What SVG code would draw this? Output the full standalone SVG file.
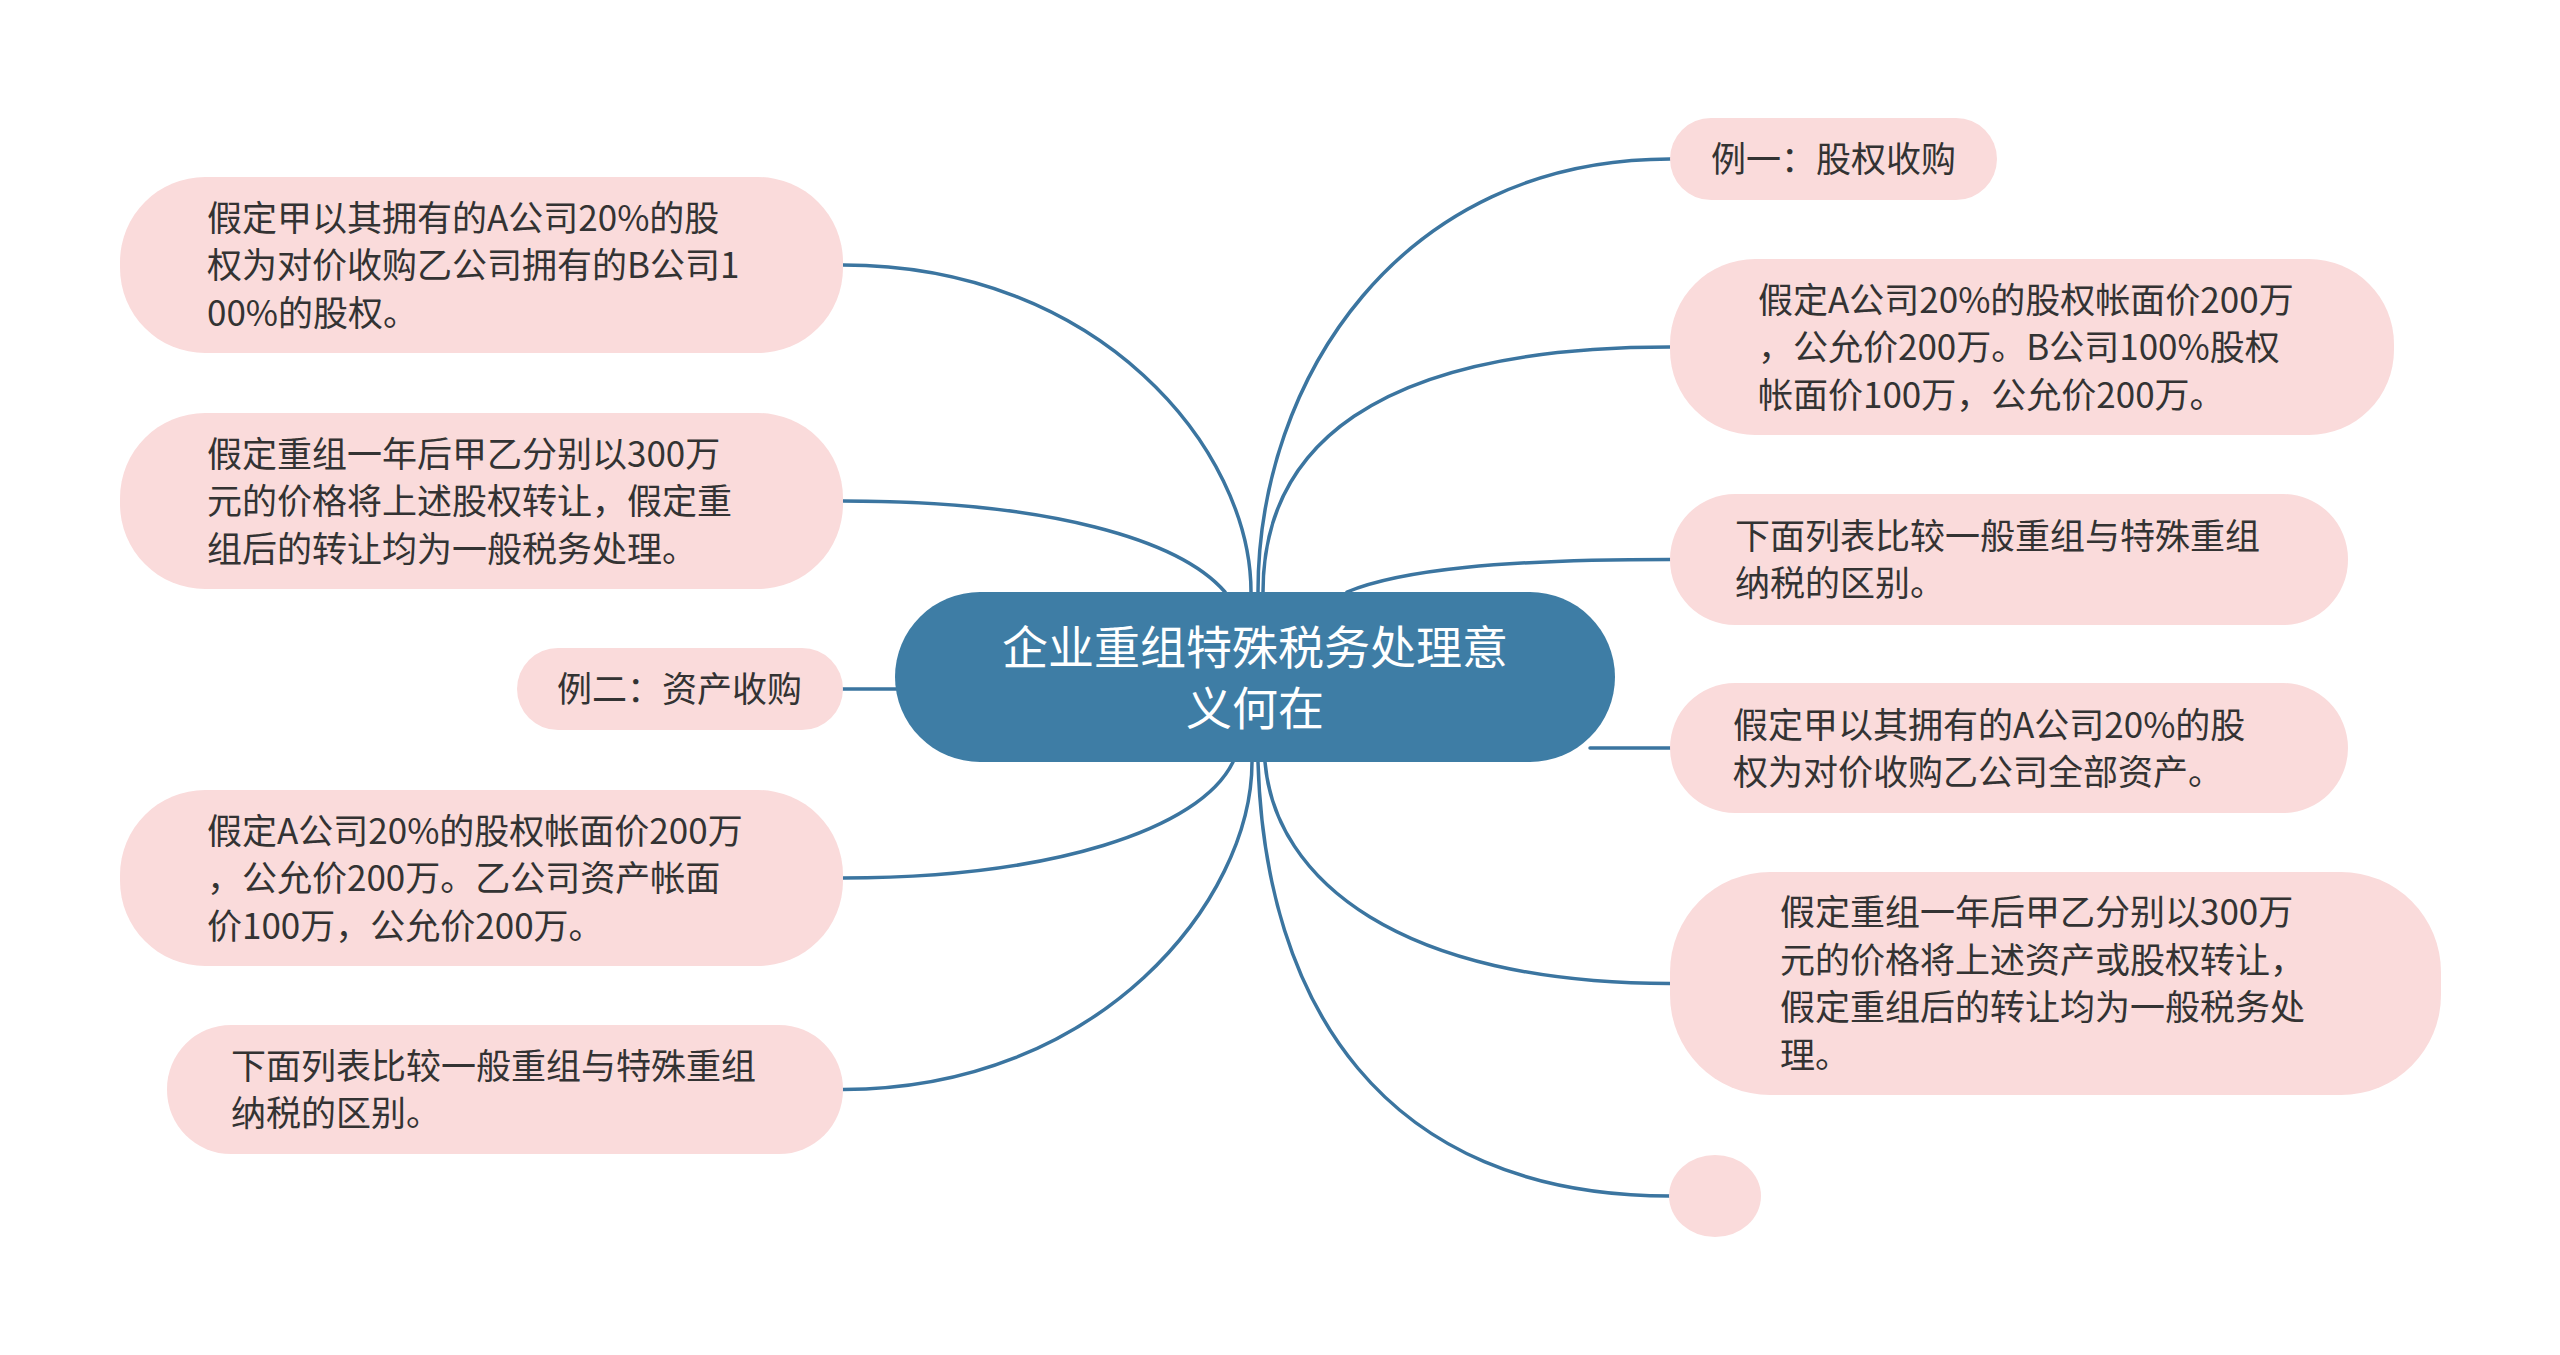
<svg xmlns="http://www.w3.org/2000/svg" width="2560" height="1355" viewBox="0 0 2560 1355">
<style>
.bg{fill:#ffffff}
.link{fill:none;stroke:#3b75a0;stroke-width:3.5;stroke-linecap:round}
.node{fill:#fadbdb}
.root{fill:#3e7da5}
.t{font-family:"Noto Sans CJK SC","Noto Sans",sans-serif;font-size:35px;fill:#333333}
.rt{font-family:"Noto Sans CJK SC","Noto Sans",sans-serif;font-size:46px;fill:#ffffff;text-anchor:middle}
</style>
<rect class="bg" x="0" y="0" width="2560" height="1355"/>
<g id="connectors">
<path class="link" d="M1258 592 C1258 380 1400 159 1670 159"/>
<path class="link" d="M1263 592 C1263 450 1370 347 1670 347"/>
<path class="link" d="M1347 592 C1400 570 1500 559.5 1670 559.5"/>
<path class="link" d="M1590 748 L1670 748"/>
<path class="link" d="M1265 762 C1275 880 1400 983.5 1670 983.5"/>
<path class="link" d="M1258 762 C1265 1000 1380 1196 1670 1196"/>
<path class="link" d="M1251 592 C1251 450 1100 265 843 265"/>
<path class="link" d="M1225 592 C1180 540 1050 501 843 501"/>
<path class="link" d="M900 689 L843 689"/>
<path class="link" d="M1233 762 C1200 830 1050 878 843 878"/>
<path class="link" d="M1252 762 C1252 900 1100 1089.5 843 1089.5"/>
</g>
<g id="root">
<rect class="root" x="895" y="592" width="720" height="170" rx="85" ry="85"/>
<text class="rt" x="1255" y="664">企业重组特殊税务处理意</text>
<text class="rt" x="1255" y="725">义何在</text>
</g>
<g id="r1">
<rect class="node" x="1670" y="118" width="327" height="82" rx="41" ry="41"/>
<text class="t" x="1711" y="172">例一：股权收购</text>
</g>
<g id="r2">
<rect class="node" x="1670" y="259" width="724" height="176" rx="85" ry="85"/>
<text class="t"><tspan x="1758" y="312.5">假定A公司20%的股权帐面价200万</tspan><tspan x="1758" y="360">，公允价200万。B公司100%股权</tspan><tspan x="1758" y="407.5">帐面价100万，公允价200万。</tspan></text>
</g>
<g id="r3">
<rect class="node" x="1670" y="494" width="678" height="131" rx="65" ry="65"/>
<text class="t"><tspan x="1735" y="549">下面列表比较一般重组与特殊重组</tspan><tspan x="1735" y="596">纳税的区别。</tspan></text>
</g>
<g id="r4">
<rect class="node" x="1670" y="683" width="678" height="130" rx="65" ry="65"/>
<text class="t"><tspan x="1733" y="737.5">假定甲以其拥有的A公司20%的股</tspan><tspan x="1733" y="784.5">权为对价收购乙公司全部资产。</tspan></text>
</g>
<g id="r5">
<rect class="node" x="1670" y="872" width="771" height="223" rx="100" ry="100"/>
<text class="t"><tspan x="1780" y="925">假定重组一年后甲乙分别以300万</tspan><tspan x="1780" y="973">元的价格将上述资产或股权转让，</tspan><tspan x="1780" y="1020">假定重组后的转让均为一般税务处</tspan><tspan x="1780" y="1068">理。</tspan></text>
</g>
<g id="r6">
<ellipse class="node" cx="1715" cy="1196" rx="46" ry="41"/>
</g>
<g id="l1">
<rect class="node" x="120" y="177" width="723" height="176" rx="85" ry="85"/>
<text class="t"><tspan x="207" y="231">假定甲以其拥有的A公司20%的股</tspan><tspan x="207" y="278">权为对价收购乙公司拥有的B公司1</tspan><tspan x="207" y="326">00%的股权。</tspan></text>
</g>
<g id="l2">
<rect class="node" x="120" y="413" width="723" height="176" rx="85" ry="85"/>
<text class="t"><tspan x="207" y="467">假定重组一年后甲乙分别以300万</tspan><tspan x="207" y="514">元的价格将上述股权转让，假定重</tspan><tspan x="207" y="562">组后的转让均为一般税务处理。</tspan></text>
</g>
<g id="l3">
<rect class="node" x="517" y="648" width="326" height="82" rx="41" ry="41"/>
<text class="t" x="557" y="702">例二：资产收购</text>
</g>
<g id="l4">
<rect class="node" x="120" y="790" width="723" height="176" rx="85" ry="85"/>
<text class="t"><tspan x="207" y="844">假定A公司20%的股权帐面价200万</tspan><tspan x="207" y="891">，公允价200万。乙公司资产帐面</tspan><tspan x="207" y="939">价100万，公允价200万。</tspan></text>
</g>
<g id="l5">
<rect class="node" x="167" y="1025" width="676" height="129" rx="64" ry="64"/>
<text class="t"><tspan x="231" y="1079">下面列表比较一般重组与特殊重组</tspan><tspan x="231" y="1126">纳税的区别。</tspan></text>
</g>
</svg>
